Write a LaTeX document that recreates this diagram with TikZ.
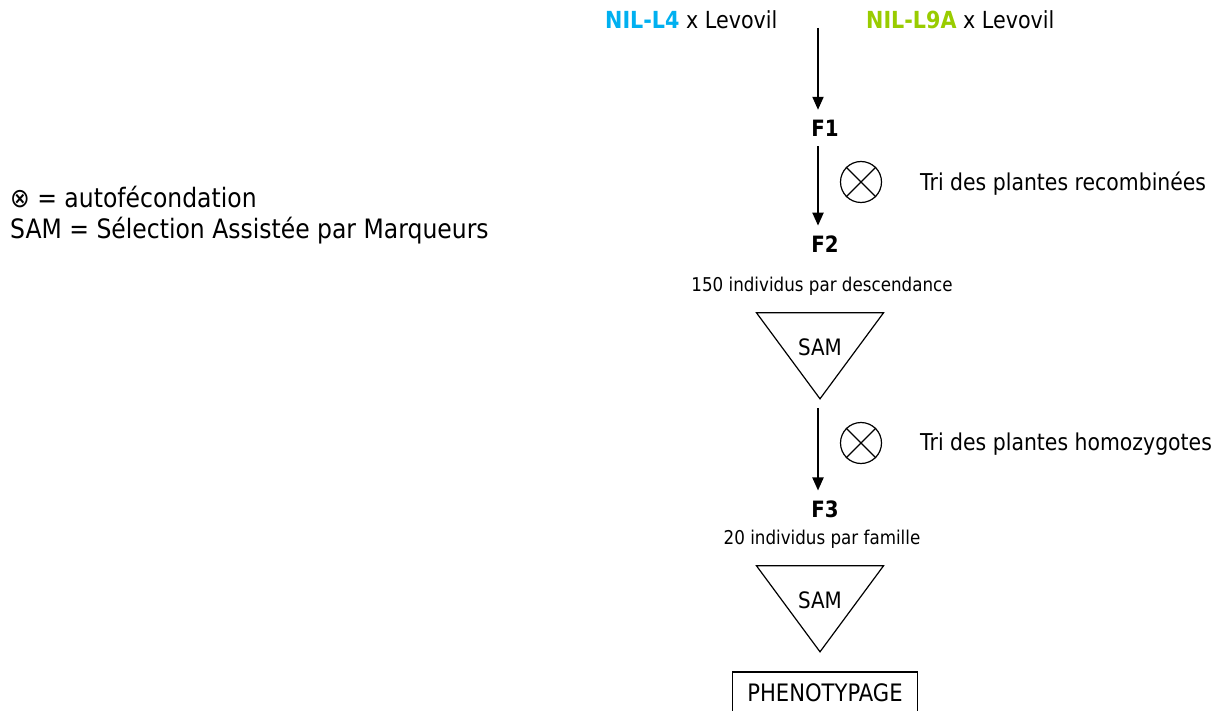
\documentclass[tikz,border=0pt]{standalone}
\usepackage{fontspec}
\setmainfont{DejaVu Sans}[FakeStretch=0.88]
\usetikzlibrary{arrows.meta,positioning,shapes.geometric,calc}
\definecolor{nilBlue} {RGB}{  0,176,240}
\definecolor{nilGreen}{RGB}{153,204,  0}
\newcommand{\fsz}[1]{\fontsize{#1}{#1}\selectfont}

\begin{document}
\begin{tikzpicture}[
  x=1pt,y=-1pt,
  >={Triangle[length=13pt,width=11pt]},
  every node/.style={inner sep=0pt},
  txt/.style={font=\fsz{23.2},anchor=west},
  hdr/.style={font=\fsz{23.5},anchor=west},
  legend/.style={font=\fsz{26.7},anchor=west},
  gen/.style={font=\fsz{22.5}\bfseries,outer sep=10pt},
  note/.style={font=\fsz{19}},
  selfing/.style={draw,circle,line width=1.2pt,minimum size=41pt},
  sam/.style={draw,line width=1.2pt,isosceles triangle,shape border rotate=270,
              isosceles triangle stretches,minimum width=127pt,minimum height=86pt,
              font=\fsz{22.6},
              label={[font=\fsz{22.6},yshift=-11pt]center:SAM}},
  pheno/.style={draw,line width=1.2pt,minimum width=185pt,minimum height=42pt,
                font=\fsz{24}},
  flow/.style={->,line width=2pt}
]
\useasboundingbox (0,0) rectangle (1223,711);

% parental crosses
\node[hdr] (crossA) at (605,20) {\textcolor{nilBlue}{\textbf{NIL-L4}} x Levovil};
\node[hdr] (crossB) at (866,20) {\textcolor{nilGreen}{\textbf{NIL-L9A}} x Levovil};
\coordinate (top) at (818,28);

% generations
\node[gen]   (f1)    at (825,128) {F1};
\node[gen]   (f2)    at (825,244) {F2};
\node[note]  (n150)  at (822,286) {150 individus par descendance};
\node[sam]   (sam1)  at (820,336) {\phantom{SAM}};
\node[gen]   (f3)    at (825,509) {F3};
\node[note]  (n20)   at (822,539) {20 individus par famille};
\node[sam]   (sam2)  at (820,589) {\phantom{SAM}};
\node[pheno] (pheno) at (825,693) {PHENOTYPAGE};

% selfing steps
\node[selfing] (self1) at (861,182) {};
\node[selfing] (self2) at (861,443) {};
\foreach \s in {self1,self2}
  \draw[line width=1.2pt] (\s.north west) -- (\s.south east)
                          (\s.north east) -- (\s.south west);
\node[txt] (tri1) at (920,184) {Tri des plantes recombinées};
\node[txt] (tri2) at (920,444) {Tri des plantes homozygotes};

% legend
\node[legend] (leg1) at (10,197) {⊗ = autofécondation};
\node[legend] (leg2) at (10,231) {SAM = Sélection Assistée par Marqueurs};

% arrows
\draw[flow] (top) -- (f1.north -| top);
\draw[flow] (f1.south -| top) -- (f2.north -| top);
\draw[flow] ([yshift=-8pt]sam1.apex -| top) -- (f3.north -| top);
\end{tikzpicture}
\end{document}
